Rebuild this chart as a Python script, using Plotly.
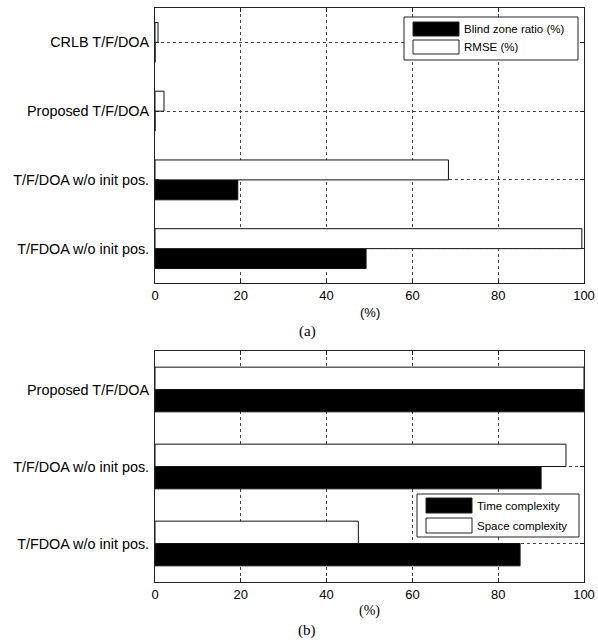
import plotly.graph_objects as go

# Panel (a): localisation accuracy
cats_a = ["T/FDOA w/o init pos.", "T/F/DOA w/o init pos.", "Proposed T/F/DOA", "CRLB T/F/DOA"]
blind_zone = [49.2, 19.3, 0.0, 0.0]
rmse = [99.5, 68.4, 2.1, 0.7]

# Panel (b): computational cost
cats_b = ["T/FDOA w/o init pos.", "T/F/DOA w/o init pos.", "Proposed T/F/DOA"]
time_cx = [85.1, 90.0, 100.0]
space_cx = [47.4, 95.8, 100.0]

x_ticks = [0, 20, 40, 60, 80, 100]

W, H = 598, 640
SANS = "Liberation Sans, Arial, sans-serif"
SERIF = "Liberation Serif, Times New Roman, serif"


def fx(p):
    return p / W


def fy(p):
    return 1 - p / H


def bar(name, vals, cats, fill, xa, ya):
    return go.Bar(
        name=name, x=vals, y=cats, orientation="h",
        marker=dict(color=fill, line=dict(color="#111", width=1)),
        xaxis=xa, yaxis=ya, showlegend=False,
    )


fig = go.Figure()
fig.add_trace(bar("Blind zone ratio (%)", blind_zone, cats_a, "black", "x", "y"))
fig.add_trace(bar("RMSE (%)", rmse, cats_a, "white", "x", "y"))
fig.add_trace(bar("Time complexity", time_cx, cats_b, "black", "x2", "y2"))
fig.add_trace(bar("Space complexity", space_cx, cats_b, "white", "x2", "y2"))

xdom = [fx(155), fx(584)]
xcommon = dict(
    range=[0, 100], tickvals=x_ticks, ticks="inside", ticklen=4,
    tickcolor="#222", showline=True, linecolor="#222", linewidth=1,
    mirror="ticks", showgrid=True, gridcolor="#444", griddash="dot",
    gridwidth=1, zeroline=False, tickfont=dict(family=SANS, size=13, color="black"),
    domain=xdom, automargin=False,
)
ycommon = dict(
    type="category", ticks="inside", ticklen=4, tickcolor="#222",
    showline=True, linecolor="#222", linewidth=1, mirror="ticks",
    showgrid=True, gridcolor="#444", griddash="dot", gridwidth=1,
    zeroline=False, tickfont=dict(family=SANS, size=14.4, color="black"),
    ticklabelstandoff=2, automargin=False,
)

fig.update_layout(
    width=W, height=H, margin=dict(l=0, r=0, t=0, b=0, autoexpand=False),
    paper_bgcolor="white", plot_bgcolor="white",
    barmode="group", bargap=0.42, bargroupgap=0,
    xaxis=dict(**xcommon, anchor="y"),
    yaxis=dict(**ycommon, domain=[fy(283), fy(8)], anchor="x",
               categoryarray=cats_a, categoryorder="array", range=[-0.5, 3.5]),
    xaxis2=dict(**xcommon, anchor="y2"),
    yaxis2=dict(**ycommon, domain=[fy(582), fy(351)], anchor="x2",
                categoryarray=cats_b, categoryorder="array", range=[-0.5, 2.5]),
)

# Hand-drawn legends with wide swatches
def legend(box, sw_x, rows, size):
    x0, y0, x1, y1 = box
    fig.add_shape(type="rect", xref="paper", yref="paper",
                  x0=fx(x0), x1=fx(x1), y0=fy(y1), y1=fy(y0),
                  line=dict(color="#222", width=1), fillcolor="white")
    for (label, fill, ya, yb) in rows:
        fig.add_shape(type="rect", xref="paper", yref="paper",
                      x0=fx(sw_x[0]), x1=fx(sw_x[1]), y0=fy(yb), y1=fy(ya),
                      line=dict(color="#222", width=1), fillcolor=fill)
        fig.add_annotation(text=label, xref="paper", yref="paper",
                           x=fx(sw_x[1] + 3), y=fy((ya + yb) / 2),
                           xanchor="left", yanchor="middle", showarrow=False,
                           font=dict(family=SANS, size=size, color="black"))


legend((404, 17, 578, 60), (413, 459),
       [("Blind zone ratio (%)", "black", 22, 36), ("RMSE (%)", "white", 40, 54)], 11.5)
legend((417, 494, 579, 537), (426, 472),
       [("Time complexity", "black", 498, 513), ("Space complexity", "white", 518, 533)], 11.5)

# Axis captions and panel tags
fig.add_annotation(text="(%)", xref="paper", yref="paper", x=fx(369.5), y=fy(312),
                   showarrow=False, xanchor="center", yanchor="middle",
                   font=dict(family=SANS, size=13, color="black"))
fig.add_annotation(text="(a)", xref="paper", yref="paper", x=fx(307), y=fy(331),
                   showarrow=False, xanchor="center", yanchor="middle",
                   font=dict(family=SERIF, size=15, color="black"))
fig.add_annotation(text="(%)", xref="paper", yref="paper", x=fx(369.5), y=fy(611),
                   showarrow=False, xanchor="center", yanchor="middle",
                   font=dict(family=SERIF, size=14, color="black"))
fig.add_annotation(text="(b)", xref="paper", yref="paper", x=fx(307), y=fy(630),
                   showarrow=False, xanchor="center", yanchor="middle",
                   font=dict(family=SERIF, size=15, color="black"))

fig.write_html("out.html")
